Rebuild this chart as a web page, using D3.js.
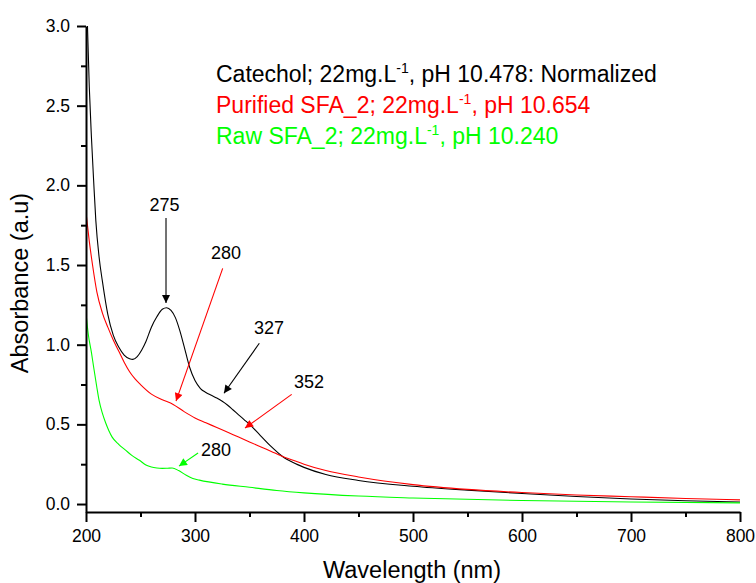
<!DOCTYPE html>
<html><head><meta charset="utf-8">
<script src="https://cdn.jsdelivr.net/npm/d3@7"></script>
<style>
body{margin:0;background:#fff;}
svg{display:block;font-family:"Liberation Sans",Arial,sans-serif;}
</style></head>
<body>
<svg id="chart" width="756" height="583"></svg>
<script>
// ---- data ----
const catechol = [
  [200,3.35],[201,3.08],[203,2.62],[205,2.30],[207,2.03],[209,1.78],[212,1.55],[215,1.40],[220,1.19],
  [225,1.06],[230,0.985],[235,0.935],[240,0.912],[243,0.908],[247,0.925],[251,0.965],[255,1.02],[260,1.11],
  [265,1.175],[270,1.222],[274,1.232],[278,1.215],[282,1.17],[286,1.09],[290,0.99],[295,0.86],[300,0.775],
  [305,0.725],[310,0.70],[315,0.682],[320,0.665],[325,0.645],[330,0.62],[335,0.59],[340,0.56],[345,0.53],
  [350,0.50],[360,0.43],[370,0.36],[380,0.30],[390,0.26],[400,0.23],[420,0.185],[450,0.148],[500,0.112],
  [550,0.087],[600,0.066],[650,0.047],[700,0.032],[750,0.021],[800,0.013]
];
const purified = [
  [200,1.83],[203,1.65],[206,1.50],[210,1.33],[215,1.20],[220,1.11],[225,1.03],[230,0.96],[235,0.89],
  [240,0.83],[245,0.785],[250,0.75],[260,0.69],[270,0.655],[280,0.625],[290,0.58],[300,0.54],[310,0.51],
  [320,0.48],[330,0.45],[340,0.42],[350,0.39],[360,0.36],[370,0.33],[380,0.30],[390,0.275],[400,0.25],
  [420,0.21],[450,0.17],[500,0.122],[550,0.092],[600,0.072],[650,0.057],[700,0.046],[750,0.035],[800,0.026]
];
const raw = [
  [200,1.20],[202,1.07],[205,0.95],[207,0.86],[210,0.73],[212,0.65],[215,0.57],[218,0.51],[221,0.46],
  [224,0.42],[230,0.375],[236,0.34],[242,0.305],[249,0.275],[255,0.245],[260,0.232],[265,0.226],[270,0.224],
  [275,0.225],[279,0.226],[285,0.21],[292,0.18],[298,0.16],[304,0.15],[325,0.125],[350,0.105],[375,0.085],
  [400,0.07],[450,0.05],[500,0.038],[600,0.022],[700,0.013],[800,0.007]
];
const xTicks = [200,300,400,500,600,700,800];
const xMinor = [250,350,450,550,650,750];
const yTicks = [0,0.5,1.0,1.5,2.0,2.5,3.0];
const yMinor = [0.25,0.75,1.25,1.75,2.25,2.75];
const seriesNames = ["Catechol; 22mg.L", "Purified SFA_2; 22mg.L", "Raw SFA_2; 22mg.L"];
const seriesTails = [", pH 10.478: Normalized", ", pH 10.654", ", pH 10.240"];
const peakLabels = ["275","280","327","352","280"];
const peakLabelPos = [[272.0,1.842],[328.4,1.538],[367.9,1.066],[404.6,0.727],[319.3,0.304]];
const arrowFrom = [[273.4,1.795],[325.4,1.479],[359.0,1.009],[388.7,0.688],[302.8,0.32]];
const arrowTo   = [[273.4,1.261],[282.6,0.646],[326.6,0.695],[345.9,0.477],[285.3,0.238]];
const arrowSeries = [0,1,0,1,2];

// ---- chart ----
const colors = ["#000000","#ff0000","#00ff00"];
const svg = d3.select("#chart");
const x = d3.scaleLinear().domain([200,800]).range([86,740]);
const y = d3.scaleLinear().domain([-0.05,3.0]).range([512,26]);

svg.append("defs").append("clipPath").attr("id","clip")
  .append("rect").attr("x",86).attr("y",26).attr("width",660).attr("height",486);

const line = d3.line().x(d=>x(d[0])).y(d=>y(d[1])).curve(d3.curveMonotoneX);
const plot = svg.append("g").attr("clip-path","url(#clip)");
[catechol,purified,raw].forEach((s,i)=>{
  plot.append("path").datum(s).attr("d",line)
    .attr("fill","none").attr("stroke",colors[i]).attr("stroke-width",1.1);
});

// axes
const yAx = svg.append("g").attr("transform","translate(86,0)")
  .call(d3.axisLeft(y).tickValues(yTicks).tickSize(9).tickSizeOuter(0).tickPadding(7).tickFormat(d3.format(".1f")));
const yMin = svg.append("g").attr("transform","translate(86,0)")
  .call(d3.axisLeft(y).tickValues(yMinor).tickSize(5).tickSizeOuter(0).tickFormat(""));
const xAx = svg.append("g").attr("transform","translate(0,512)")
  .call(d3.axisBottom(x).tickValues(xTicks).tickSize(10).tickSizeOuter(0).tickPadding(8));
const xMin = svg.append("g").attr("transform","translate(0,512)")
  .call(d3.axisBottom(x).tickValues(xMinor).tickSize(5).tickSizeOuter(0).tickFormat(""));
[yAx,yMin,xAx,xMin].forEach(g=>{
  g.selectAll("path,line").attr("stroke","#000").attr("stroke-width",2);
  g.selectAll("text").attr("font-size",17.5).attr("fill","#000").attr("font-family","Liberation Sans, Arial, sans-serif");
});
yMin.select(".domain").remove();
xMin.select(".domain").remove();

// axis titles
svg.append("text").attr("x",412).attr("y",578).attr("text-anchor","middle")
  .attr("font-size",23.5).text("Wavelength (nm)");
svg.append("text").attr("transform","translate(28,283) rotate(-90)").attr("text-anchor","middle")
  .attr("font-size",23.5).text("Absorbance (a.u)");

// legend
const legY = [82,113,144];
seriesNames.forEach((n,i)=>{
  const t = svg.append("text").attr("x",216).attr("y",legY[i]).attr("font-size",23).attr("fill",colors[i]);
  t.append("tspan").text(n);
  t.append("tspan").attr("dy",-9).attr("font-size",14).text("-1");
  t.append("tspan").attr("dy",9).text(seriesTails[i]);
});

// arrowheads
const defs = svg.select("defs");
colors.forEach((c,i)=>{
  defs.append("marker").attr("id","ah"+i).attr("viewBox","0 0 10 10").attr("refX",10).attr("refY",5)
    .attr("markerWidth",11).attr("markerHeight",8).attr("markerUnits","userSpaceOnUse").attr("orient","auto")
    .append("path").attr("d","M0,0 L10,5 L0,10 Z").attr("fill",c);
});
arrowFrom.forEach((f,i)=>{
  const t = arrowTo[i];
  svg.append("line").attr("x1",x(f[0])).attr("y1",y(f[1])).attr("x2",x(t[0])).attr("y2",y(t[1]))
    .attr("stroke",colors[arrowSeries[i]]).attr("stroke-width",1.1).attr("marker-end","url(#ah"+arrowSeries[i]+")");
});
peakLabels.forEach((l,i)=>{
  svg.append("text").attr("x",x(peakLabelPos[i][0])).attr("y",y(peakLabelPos[i][1]))
    .attr("text-anchor","middle").attr("font-size",18).attr("fill","#000").text(l);
});
</script>
</body></html>
